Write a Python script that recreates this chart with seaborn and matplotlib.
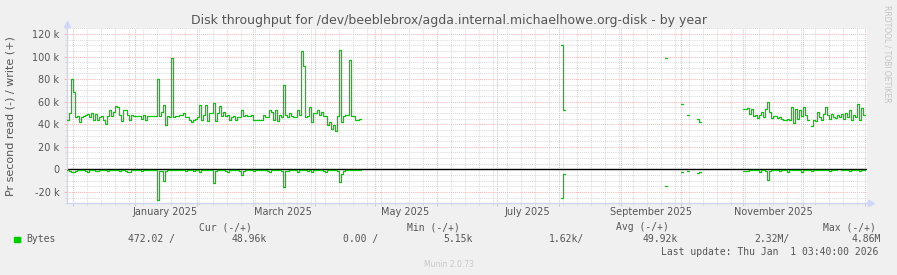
import numpy as np
import pandas as pd
import matplotlib
matplotlib.use("Agg")
import matplotlib.pyplot as plt
import matplotlib.dates as mdates
from matplotlib.ticker import MultipleLocator, NullFormatter
from matplotlib.transforms import blended_transform_factory
from matplotlib.patches import Rectangle
import seaborn as sns

# ---------------- data (k bytes / s) ----------------
title = "Disk throughput for /dev/beeblebrox/agda.internal.michaelhowe.org-disk - by year"
ylabel = "Pr second read (-) / write (+)"

seg1_start = "2024-11-28"
seg1_write = [44, 50, 80, 69, 46, 47, 42, 46, 47, 48,
              49, 46, 50, 44, 49, 44, 46, 47, 44, 40,
              47, 53, 47, 51, 56, 55, 48, 43, 53, 53,
              48, 44, 48, 47, 47, 47, 47, 45, 48, 44,
              47, 47, 47, 47, 47, 80, 47, 51, 57, 39,
              47, 46, 99, 46, 47, 47, 48, 48, 50, 46,
              46, 44, 42, 44, 45, 46, 57, 44, 48, 57,
              43, 50, 50, 59, 43, 50, 56, 47, 51, 47,
              48, 44, 46, 47, 44, 46, 46, 53, 47, 48,
              47, 47, 48, 44, 44, 44, 44, 44, 48, 46,
              46, 53, 51, 44, 53, 43, 48, 46, 75, 48,
              46, 50, 47, 46, 46, 53, 48, 105, 92, 46,
              47, 55, 42, 50, 50, 53, 48, 51, 47, 47,
              39, 42, 36, 39, 34, 47, 106, 42, 47, 48,
              48, 97, 47, 47, 44, 44, 45]
seg1_read = [-0.8, -1.0, -2.7, -2.7, -1.0, -0.7, -0.7, -0.8, -0.7, -1.0,
             -2.7, -0.8, -0.7, -0.7, -1.4, -1.4, -0.8, -0.7, -0.7, -0.8,
             -1.4, -0.7, -0.7, -0.8, -0.7, -0.8, -1.0, -0.7, -0.7, -1.4,
             -2.7, -2.7, -0.8, -0.7, -0.7, -0.8, -0.7, -1.4, -0.8, -0.7,
             -0.7, -0.8, -0.7, -0.7, -0.8, -27.0, -1.0, -1.0, -10.0, -1.4,
             -0.8, -0.8, -0.7, -0.8, -0.7, -0.7, -0.8, -0.7, -0.7, -1.4,
             -0.8, -0.7, -0.8, -1.4, -0.8, -0.7, -2.7, -0.8, -0.7, -0.7,
             -0.8, -0.7, -0.8, -12.0, -1.0, -0.8, -0.7, -0.7, -0.8, -1.4,
             -2.7, -0.8, -0.7, -0.7, -0.8, -0.7, -1.0, -5.0, -1.4, -0.8,
             -0.7, -0.7, -0.8, -1.4, -0.7, -0.7, -0.8, -0.7, -0.7, -0.8,
             -1.4, -2.7, -0.8, -0.7, -0.7, -0.8, -0.7, -1.0, -16.0, -1.0,
             -1.4, -0.8, -0.7, -0.7, -0.8, -2.7, -0.8, -0.7, -0.7, -0.8,
             -1.0, -0.8, -2.7, -0.8, -0.7, -0.7, -0.8, -0.7, -1.4, -2.7,
             -0.8, -0.7, -0.7, -0.8, -0.7, -1.0, -11.0, -4.0, -1.0, -0.8,
             -0.7, -0.7, -0.8, -0.7, -0.7, -0.7, -0.7]

sparse_dates = ["2025-08-02", "2025-08-03", "2025-09-23", "2025-10-01",
                "2025-10-04", "2025-10-09", "2025-10-10"]
sparse_write = [110, 53, 98.3, 57.6, 47.8, 44.6, 41.6]
sparse_read = [-25, -4, -14.8, -2.0, -1.2, -3.0, -2.0]

seg3_start = "2025-11-01"
seg3_write = [53.6, 53.6, 54.8, 49.5, 53.9, 47.1, 48.0, 45.9, 48.0, 50.9,
              46.5, 53.9, 60.1, 50.9, 45.9, 47.1, 47.1, 45.9, 46.5, 45.0,
              44.1, 43.6, 45.0, 43.6, 55.0, 41.2, 53.9, 45.0, 52.4, 47.1,
              55.0, 48.0, 43.6, np.nan, 38.8, 43.6, 43.0, 50.9, 46.5, 43.6,
              49.5, 55.4, 48.0, 45.0, 49.5, 46.5, 45.9, 48.0, 46.5, 49.5,
              45.0, 50.0, 46.5, 52.4, 43.6, 48.0, 46.5, 57.8, 43.6, 54.8,
              48.0]
seg3_read = [-1.5, -1.5, -1.0, -0.7, -0.7, -0.7, -0.8, -0.7, -2.7, -0.8,
             -0.8, -1.5, -9.5, -1.8, -0.7, -0.7, -0.8, -0.7, -1.0, -0.7,
             -0.7, -0.8, -2.7, -0.8, -0.7, -0.7, -0.8, -0.7, -0.7, -2.7,
             -0.8, -0.7, -0.8, -0.7, -1.5, -0.7, -0.7, -0.8, -0.7, -0.7,
             -0.8, -0.7, -0.7, -1.0, -0.7, -0.7, -0.7, np.nan, np.nan, -0.7,
             -0.8, -0.7, -0.7, -1.0, -0.7, -0.7, -0.8, -0.7, -1.0, -0.7,
             -0.7]

ytick_values = [-20, 0, 20, 40, 60, 80, 100, 120]
ytick_labels = ["-20 k", "0", "20 k", "40 k", "60 k", "80 k", "100 k", "120 k"]
xlabel_dates = ["2025-01-16", "2025-03-16", "2025-05-16", "2025-07-16",
                "2025-09-16", "2025-11-16"]
xlabel_texts = ["January 2025", "March 2025", "May 2025", "July 2025",
                "September 2025", "November 2025"]

legend_headers = ["Cur (-/+)", "Min (-/+)", "Avg (-/+)", "Max (-/+)"]
legend_name = "Bytes"
legend_values = ["472.02 /", "48.96k", "0.00 /", "5.15k",
                 "1.62k/", "49.92k", "2.32M/", "4.86M"]
last_update = "Last update: Thu Jan  1 03:40:00 2026"
footer = "Munin 2.0.73"
watermark = "RRDTOOL / TOBI OETIKER"

# ---------------- build step rows ----------------
uid_counter = [0]


def build(dates, values, series):
    rows = []
    prev = None
    for d, v in zip(dates, values):
        if v is None or np.isnan(v):
            prev = None
            continue
        if prev is None or (d - prev) != pd.Timedelta(days=1):
            uid_counter[0] += 1
        uid = f"{series}{uid_counter[0]}"
        rows.append((d, v, series, uid))
        rows.append((d + pd.Timedelta(days=1), v, series, uid))
        prev = d
    return rows


rows = []
d1 = pd.date_range(seg1_start, periods=len(seg1_write), freq="D")
d2 = pd.to_datetime(sparse_dates)
d3 = pd.date_range(seg3_start, periods=len(seg3_write), freq="D")
for dates, w, r in [(d1, seg1_write, seg1_read), (d2, sparse_write, sparse_read),
                    (d3, seg3_write, seg3_read)]:
    rows += build(list(dates), [float(x) for x in w], "write")
    rows += build(list(dates), [float(x) for x in r], "read")
df = pd.DataFrame(rows, columns=["time", "value", "series", "uid"])

# ---------------- figure ----------------
W, H = 897, 275
fig = plt.figure(figsize=(W / 100, H / 100), dpi=100, facecolor="#f0f0f0")
L, R, T, B = 67, 867, 28.3, 203.3
ax = fig.add_axes([L / W, 1 - B / H, (R - L) / W, (B - T) / H])
ax.set_facecolor("white")

TXT = "#555555"
GREEN = "#00cc00"
MGRID = "#f3b9b9"
GRID = "#dadada"
AXC = "#cfd6f8"

ax.axhline(0, color="black", lw=1.0, zorder=2.5)
sns.lineplot(data=df, x="time", y="value", units="uid", estimator=None,
             sort=False, color=GREEN, lw=0.9, ax=ax, legend=False, zorder=3)
ax.set_xlabel("")
ax.set_ylabel("")

ax.set_xlim(pd.Timestamp("2024-11-28").to_pydatetime(),
            pd.Timestamp("2026-01-02").to_pydatetime())
ax.set_ylim(-30, 125)

ax.xaxis.set_major_locator(mdates.MonthLocator())
ax.xaxis.set_minor_locator(mdates.WeekdayLocator(byweekday=mdates.SU))
ax.xaxis.set_major_formatter(NullFormatter())
ax.xaxis.set_minor_formatter(NullFormatter())
ax.set_yticks(ytick_values, labels=ytick_labels)
ax.yaxis.set_minor_locator(MultipleLocator(5))

ax.set_axisbelow(True)
ax.grid(which="major", color=MGRID, linestyle=(0, (1, 1)), lw=0.75)
ax.grid(which="minor", color=GRID, linestyle=(0, (1, 1)), lw=0.75)
ax.tick_params(which="major", length=2.2, width=0.75, color=MGRID,
               labelsize=7, labelcolor=TXT, pad=3.3)
ax.tick_params(which="minor", length=1.5, width=0.75, color=GRID)

for s in ["top", "right"]:
    ax.spines[s].set_visible(False)
for s in ["left", "bottom"]:
    ax.spines[s].set_color(AXC)
    ax.spines[s].set_linewidth(1.0)

# axis arrows
ax.plot([0, 0], [1, 1 + 4 / 175], transform=ax.transAxes, color=AXC, lw=1.0, clip_on=False)
ax.plot([0], [1 + 4.3 / 175], transform=ax.transAxes, marker="^", ms=4.5,
        color=AXC, clip_on=False)
ax.plot([1, 1 + 3 / 800], [0, 0], transform=ax.transAxes, color=AXC, lw=1.0, clip_on=False)
ax.plot([1 + 3.8 / 800], [0], transform=ax.transAxes, marker=">", ms=4.5,
        color=AXC, clip_on=False)

# x labels (month names)
trans = blended_transform_factory(ax.transData, ax.transAxes)
for d, t in zip(xlabel_dates, xlabel_texts):
    ax.text(pd.Timestamp(d).to_pydatetime(), -(215.3 - B) / (B - T), t,
            transform=trans, ha="center", va="baseline", fontsize=7, color=TXT)


def ft(x, y, s, **kw):
    fig.text(x / W, 1 - y / H, s, **kw)


ft(448.5, 24, title, ha="center", va="baseline", fontsize=9, color=TXT)
ft(10.8, 115.8, ylabel, ha="center", va="center", rotation=90, fontsize=8, color=TXT)
ft(886.7, 53.3, watermark, ha="center", va="center", rotation=270,
   fontsize=5.5, color="#c4c4c4")
ft(448.5, 267, footer, ha="center", va="baseline", fontsize=5.5, color="#c8c8c8")

mono = dict(family="DejaVu Sans Mono", fontsize=7, color=TXT, va="baseline", ha="left")
for x, s in zip([199, 407.3, 615.7, 822.7], legend_headers):
    ft(x, 230, s, **mono)
ft(26.7, 242, legend_name, **mono)
for x, s in zip([127.7, 231, 343.3, 443.3, 549.3, 642.3, 754.3, 851.7], legend_values):
    ft(x, 242, s, **mono)
ft(661, 254.7, last_update, **mono)

fig.patches.append(Rectangle((14 / W, 1 - 242.3 / H), 5.5 / W, 5.8 / H,
                             transform=fig.transFigure, color=GREEN, figure=fig))

fig.savefig("out.png", dpi=100, facecolor=fig.get_facecolor())
